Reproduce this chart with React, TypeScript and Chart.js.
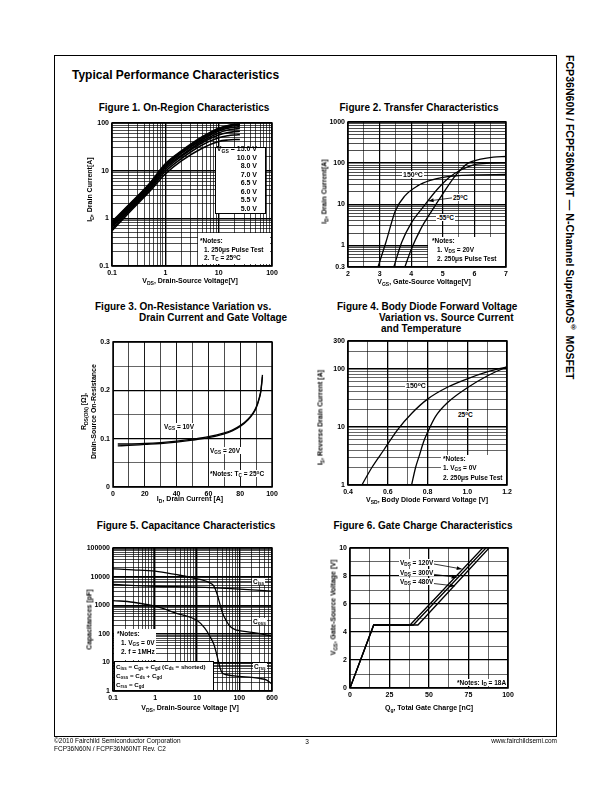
import React, { useEffect, useRef } from "react";
import { Chart, registerables } from "chart.js";
Chart.register(...registerables);

const FONT = "'Liberation Sans', Arial, Helvetica, sans-serif";

// ---------------- Figure 1: On-Region Characteristics ----------------
const f1Vds = [0.1, 0.2, 0.5, 1, 2, 5, 10, 15, 20, 25];
const f1Id15 = [0.85, 1.85, 5.3, 14, 26, 52, 78, 89, 94, 96];
const f1Id10 = [0.82, 1.8, 5.1, 13.5, 25, 50, 76, 87, 92, 94];
const f1Id8 = [0.78, 1.7, 4.9, 13, 24, 47, 72, 83, 88, 90];
const f1Id7 = [0.74, 1.62, 4.7, 12.2, 23, 45, 68, 78, 82, 84];
const f1Id65 = [0.7, 1.55, 4.5, 11.5, 21, 42, 62, 71, 75, 77];
const f1Id6 = [0.66, 1.45, 4.2, 10.6, 20, 39, 56, 63, 66, 67];
const f1Id55 = [0.6, 1.35, 3.9, 9.6, 18, 35, 49, 54, 56, 57];
const f1Id5 = [0.55, 1.25, 3.6, 8.5, 16, 30, 41, 44, 45, 45];
const f1Legend = ["15.0 V", "10.0 V", "8.0 V", "7.0 V", "6.5 V", "6.0 V", "5.5 V", "5.0 V"];
const f1XLabels = [0.1, 1, 10, 100];
const f1YLabels = [0.1, 1, 10, 100];

// ---------------- Figure 2: Transfer Characteristics ----------------
const f2Vgs150 = [2.95, 3.2, 3.5, 3.8, 4.2, 4.6, 5.0, 5.5, 6, 7];
const f2Id150 = [0.3, 1.2, 7, 16, 28, 38, 45, 50, 52, 53];
const f2Vgs25 = [3.45, 3.7, 4.0, 4.4, 4.8, 5.2, 5.6, 6.0, 6.5, 7];
const f2Id25 = [0.3, 1.2, 3.5, 9, 22, 45, 70, 92, 100, 102];
const f2VgsM55 = [3.8, 4.0, 4.3, 4.6, 5.0, 5.4, 5.8, 6.2, 6.6, 7];
const f2IdM55 = [0.3, 0.8, 2.5, 6, 18, 50, 100, 125, 140, 145];
const f2XLabels = [2, 3, 4, 5, 6, 7];
const f2YLabels = [0.3, 1, 10, 100, 1000];

// ---------------- Figure 3: On-Resistance ----------------
const f3Id = [3, 10, 20, 30, 40, 50, 60, 70, 75, 80, 85, 88, 90, 92, 93, 94];
const f3R10 = [0.089, 0.089, 0.09, 0.092, 0.095, 0.099, 0.104, 0.112, 0.118, 0.127, 0.141, 0.153, 0.165, 0.185, 0.2, 0.232];
const f3R20 = [0.085, 0.086, 0.088, 0.09, 0.093, 0.097, 0.102, 0.11, 0.116, 0.125, 0.139, 0.151, 0.163, 0.183, 0.198, 0.228];
const f3XLabels = [0, 20, 40, 60, 80, 100];
const f3YLabels = [0, 0.1, 0.2, 0.3];

// ---------------- Figure 4: Body Diode ----------------
const f4Vsd150 = [0.47, 0.52, 0.58, 0.65, 0.72, 0.8, 0.9, 1.0, 1.1, 1.2];
const f4Is150 = [1, 2, 4, 9, 17, 30, 48, 67, 88, 108];
const f4Vsd25 = [0.72, 0.74, 0.76, 0.78, 0.8, 0.84, 0.9, 1.0, 1.1, 1.2];
const f4Is25 = [1, 2, 3.3, 5.5, 8, 15, 26, 47, 75, 108];
const f4XLabels = [0.4, 0.6, 0.8, 1.0, 1.2];
const f4YLabels = [1, 10, 100, 300];

// ---------------- Figure 5: Capacitance ----------------
const f5VdsCiss = [0.1, 1, 10, 100, 600];
const f5Ciss = [5300, 4600, 4270, 3640, 3100];
const f5VdsCoss = [0.1, 0.3, 1, 3, 10, 20, 25, 30, 35, 40, 50, 60, 80, 100, 200, 400, 600];
const f5Coss = [18760, 17300, 15500, 11900, 8400, 6060, 4640, 2370, 1050, 540, 275, 184, 140, 130, 113, 94, 82];
const f5VdsCrss = [0.1, 0.3, 1, 3, 10, 15, 20, 25, 30, 35, 40, 50, 100, 200, 300, 450, 600];
const f5Crss = [1457, 1270, 920, 540, 290, 160, 82, 42, 16, 6.4, 4.2, 3.7, 3.25, 3.0, 2.75, 2.4, 1.75];
const f5XLabels = [0.1, 1, 10, 100, 600];
const f5YLabels = [1, 10, 100, 1000, 10000, 100000];

// ---------------- Figure 6: Gate Charge ----------------
const f6Qg120 = [0, 15, 38, 84];
const f6Vgs120 = [0, 4.5, 4.5, 10];
const f6Qg300 = [0, 15, 40, 86];
const f6Vgs300 = [0, 4.5, 4.5, 10];
const f6Qg480 = [0, 15, 43, 88];
const f6Vgs480 = [0, 4.5, 4.5, 10];
const f6XLabels = [0, 25, 50, 75, 100];
const f6YLabels = [0, 2, 4, 6, 8, 10];

// ---------------- helpers ----------------
function logGrid(min: number, max: number): number[] {
  const out: number[] = [];
  for (let e = Math.floor(Math.log10(min)) - 1; e <= Math.ceil(Math.log10(max)); e++) {
    for (let m = 1; m < 10; m++) {
      const v = +(m * Math.pow(10, e)).toPrecision(6);
      if (v >= min * 0.999999 && v <= max * 1.000001) out.push(v);
    }
  }
  if (!out.some((v) => Math.abs(v - max) < max * 1e-6)) out.push(max);
  return out;
}
function stepGrid(min: number, max: number, step: number): number[] {
  const out: number[] = [];
  const n = Math.round((max - min) / step);
  for (let i = 0; i <= n; i++) out.push(+(min + i * step).toFixed(6));
  return out;
}

const PADL = 40, PADT = 8, PADR = 16, PADB = 14;

type AxisDef = {
  type: "linear" | "logarithmic";
  min: number;
  max: number;
  grid: number[];
  labels: number[];
  fmt?: (v: number) => string;
  major?: number;
  minor?: number;
};

function findLabel(labels: number[], v: number) {
  return labels.find((l) => Math.abs(l - v) <= 1e-7 * Math.max(1, Math.abs(l)));
}

function makeAxis(a: AxisDef, horizontal: boolean) {
  const fmt = a.fmt || ((v: number) => String(v));
  return {
    type: a.type,
    min: a.min,
    max: a.max,
    bounds: "data",
    afterBuildTicks: (s: any) => {
      s.ticks = a.grid.map((v) => ({ value: v }));
    },
    afterFit: (s: any) => {
      if (horizontal) s.height = PADB;
      else s.width = PADL;
    },
    ticks: {
      autoSkip: false,
      maxRotation: 0,
      minRotation: 0,
      padding: 3,
      color: "#000",
      font: { family: FONT, size: 7, weight: "bold" },
      callback: (v: any) => {
        const l = findLabel(a.labels, Number(v));
        return l === undefined ? "" : fmt(l);
      },
    },
    grid: {
      color: "#000",
      drawTicks: false,
      lineWidth: (ctx: any) =>
        ctx.tick && findLabel(a.labels, ctx.tick.value) !== undefined ? a.major ?? 1.2 : a.minor ?? 0.55,
    },
    border: { display: false },
  };
}

const framePlugin = {
  id: "frame",
  afterDatasetsDraw(chart: any) {
    const { ctx, chartArea } = chart;
    const { left, top, right, bottom } = chartArea;
    ctx.save();
    ctx.lineWidth = 1.5;
    ctx.strokeStyle = "#000";
    ctx.strokeRect(left, top, right - left, bottom - top);
    ctx.restore();
  },
};

type Arrow = { from: [number, number]; to: [number, number] };
function arrowPlugin(arrows: Arrow[]) {
  return {
    id: "arrows",
    afterDatasetsDraw(chart: any) {
      const { ctx } = chart;
      const xs = chart.scales.x, ys = chart.scales.y;
      ctx.save();
      ctx.strokeStyle = "#000";
      ctx.fillStyle = "#000";
      ctx.lineWidth = 0.8;
      arrows.forEach((a) => {
        const x1 = xs.getPixelForValue(a.from[0]), y1 = ys.getPixelForValue(a.from[1]);
        const x2 = xs.getPixelForValue(a.to[0]), y2 = ys.getPixelForValue(a.to[1]);
        ctx.beginPath();
        ctx.moveTo(x1, y1);
        ctx.lineTo(x2, y2);
        ctx.stroke();
        const ang = Math.atan2(y2 - y1, x2 - x1);
        const L = 5, W = 2;
        ctx.beginPath();
        ctx.moveTo(x2, y2);
        ctx.lineTo(x2 - L * Math.cos(ang) + W * Math.sin(ang), y2 - L * Math.sin(ang) - W * Math.cos(ang));
        ctx.lineTo(x2 - L * Math.cos(ang) - W * Math.sin(ang), y2 - L * Math.sin(ang) + W * Math.cos(ang));
        ctx.closePath();
        ctx.fill();
      });
      ctx.restore();
    },
  };
}

type Series = { x: number[]; y: number[]; smooth?: boolean; width?: number };

function lineCfg(series: Series[], xa: AxisDef, ya: AxisDef, arrows: Arrow[] = []) {
  return {
    type: "line",
    data: {
      datasets: series.map((s) => ({
        data: s.x.map((x, i) => ({ x, y: s.y[i] })),
        borderColor: "#000",
        borderWidth: s.width ?? 1.3,
        pointRadius: 0,
        fill: false,
        cubicInterpolationMode: s.smooth === false ? "default" : "monotone",
        tension: 0,
      })),
    },
    options: {
      responsive: false,
      animation: false,
      devicePixelRatio: 1,
      events: [],
      layout: { padding: { left: 0, top: PADT, right: PADR, bottom: 0 } },
      plugins: { legend: { display: false }, tooltip: { enabled: false }, title: { display: false } },
      scales: { x: makeAxis(xa, true), y: makeAxis(ya, false) },
    },
    plugins: [framePlugin, arrowPlugin(arrows)],
  };
}

function ChartBox({ area, cfg }: { area: [number, number, number, number]; cfg: () => any }) {
  const ref = useRef<HTMLCanvasElement>(null);
  const [L, T, R, B] = area;
  const w = R - L + PADL + PADR;
  const h = B - T + PADT + PADB;
  useEffect(() => {
    const chart = new Chart(ref.current as HTMLCanvasElement, cfg() as any);
    return () => chart.destroy();
  }, []);
  return (
    <canvas
      ref={ref}
      width={w}
      height={h}
      style={{ position: "absolute", left: L - PADL, top: T - PADT, width: w, height: h }}
    />
  );
}

const Sub = ({ children }: { children: any }) => (
  <sub style={{ fontSize: "0.72em", verticalAlign: "-0.3em", lineHeight: 0 }}>{children}</sub>
);
const Sup = ({ children }: { children: any }) => (
  <sup style={{ fontSize: "0.72em", verticalAlign: "0.4em", lineHeight: 0 }}>{children}</sup>
);

function Txt({
  x, y, size = 7, bold = true, anchor = "left", children, bg = false, style = {},
}: {
  x: number; y: number; size?: number; bold?: boolean; anchor?: "left" | "center" | "right"; children: any; bg?: boolean; style?: any;
}) {
  const W = 400;
  const left = anchor === "left" ? x : anchor === "center" ? x - W / 2 : x - W;
  return (
    <div
      style={{
        position: "absolute", left, top: Math.round(y - size * 0.6), width: W, height: size * 1.2,
        textAlign: anchor, fontSize: size, lineHeight: `${size * 1.2}px`, fontWeight: bold ? "bold" : "normal",
        whiteSpace: "nowrap", pointerEvents: "none", color: "#000", ...style,
      }}
    >
      <span style={{ background: bg ? "#fff" : "transparent", padding: bg ? "0 1px" : 0, color: "#000" }}>{children}</span>
    </div>
  );
}

function VTxt({ x, y, size = 7, children }: { x: number; y: number; size?: number; children: any }) {
  const W = 240, H = size * 1.3;
  return (
    <div
      style={{
        position: "absolute", left: x - W / 2, top: y - H / 2, width: W, height: H, lineHeight: `${H}px`,
        textAlign: "center", fontSize: size, fontWeight: "bold", transform: "rotate(-90deg)", whiteSpace: "nowrap",
        color: "#000",
      }}
    >
      {children}
    </div>
  );
}

function Box({ l, t, w, h, border = false, children }: { l: number; t: number; w: number; h: number; border?: boolean; children?: any }) {
  return (
    <div
      style={{
        position: "absolute", left: l, top: t, width: w, height: h, background: "#fff",
        border: border ? "1px solid #000" : "none", boxSizing: "border-box",
      }}
    >
      {children}
    </div>
  );
}

export default function App() {
  const fig1 = () =>
    lineCfg(
      [f1Id15, f1Id10, f1Id8, f1Id7, f1Id65, f1Id6, f1Id55, f1Id5].map((y) => ({ x: f1Vds, y, width: 1.6 })),
      { type: "logarithmic", min: 0.1, max: 100, grid: logGrid(0.1, 100), labels: f1XLabels, major: 1.4, minor: 0.7 },
      { type: "logarithmic", min: 0.1, max: 100, grid: logGrid(0.1, 100), labels: f1YLabels, major: 1.4, minor: 0.7 }
    );
  const fig2 = () =>
    lineCfg(
      [
        { x: f2Vgs150, y: f2Id150 },
        { x: f2Vgs25, y: f2Id25 },
        { x: f2VgsM55, y: f2IdM55 },
      ],
      { type: "linear", min: 2, max: 7, grid: stepGrid(2, 7, 0.5), labels: f2XLabels, major: 1.2, minor: 0.6 },
      { type: "logarithmic", min: 0.3, max: 1000, grid: logGrid(0.3, 1000), labels: f2YLabels, major: 1.4, minor: 0.7 },
      [{ from: [5.29, 14.3], to: [4.55, 12.1] }]
    );
  const fig3 = () =>
    lineCfg(
      [
        { x: f3Id, y: f3R10 },
        { x: f3Id, y: f3R20 },
      ],
      { type: "linear", min: 0, max: 100, grid: stepGrid(0, 100, 10), labels: f3XLabels, major: 0.9, minor: 0.7 },
      { type: "linear", min: 0, max: 0.3, grid: stepGrid(0, 0.3, 0.05), labels: f3YLabels, major: 1.3, minor: 0.6 }
    );
  const fig4 = () =>
    lineCfg(
      [
        { x: f4Vsd150, y: f4Is150 },
        { x: f4Vsd25, y: f4Is25 },
      ],
      {
        type: "linear", min: 0.4, max: 1.2, grid: stepGrid(0.4, 1.2, 0.1), labels: f4XLabels,
        fmt: (v) => v.toFixed(1), major: 1.3, minor: 0.6,
      },
      { type: "logarithmic", min: 1, max: 300, grid: logGrid(1, 300), labels: f4YLabels, major: 1.4, minor: 0.6 }
    );
  const fig5 = () =>
    lineCfg(
      [
        { x: f5VdsCiss, y: f5Ciss },
        { x: f5VdsCoss, y: f5Coss },
        { x: f5VdsCrss, y: f5Crss },
      ],
      { type: "logarithmic", min: 0.1, max: 600, grid: logGrid(0.1, 600), labels: f5XLabels, major: 1.4, minor: 0.7 },
      { type: "logarithmic", min: 1, max: 100000, grid: logGrid(1, 100000), labels: f5YLabels, major: 1.4, minor: 0.7 }
    );
  const fig6 = () =>
    lineCfg(
      [
        { x: f6Qg120, y: f6Vgs120, smooth: false },
        { x: f6Qg300, y: f6Vgs300, smooth: false },
        { x: f6Qg480, y: f6Vgs480, smooth: false },
      ],
      { type: "linear", min: 0, max: 100, grid: stepGrid(0, 100, 12.5), labels: f6XLabels, major: 1.3, minor: 0.6 },
      { type: "linear", min: 0, max: 10, grid: stepGrid(0, 10, 1), labels: f6YLabels, major: 1.3, minor: 0.6 },
      [
        { from: [48.5, 8.95], to: [70.7, 8.5] },
        { from: [48.5, 8.19], to: [67.5, 7.9] },
        { from: [48.5, 7.52], to: [66.5, 7.29] },
      ]
    );

  const figT = 10;
  const ann = 6.5;

  return (
    <div
      style={{
        position: "absolute", left: 0, top: 0, width: 612, height: 792, background: "#fff",
        fontFamily: FONT, color: "#000", overflow: "hidden",
      }}
    >
      {/* page frame */}
      <div style={{ position: "absolute", left: 54, top: 55, width: 503, height: 682, border: "1px solid #000", boxSizing: "border-box" }} />
      {/* side title */}
      <div
        style={{
          position: "absolute", left: 563, top: 55, writingMode: "vertical-rl", fontSize: 10.6, fontWeight: "bold",
          whiteSpace: "nowrap", lineHeight: "14px", color: "#000",
        }}
      >
        FCP36N60N / FCPF36N60NT — N-Channel SupreMOS<Sup>®</Sup> MOSFET
      </div>
      <Txt x={72} y={75} size={12}>Typical Performance Characteristics</Txt>

      {/* Figure titles */}
      <Txt x={184} y={108} size={figT} anchor="center">Figure 1. On-Region Characteristics</Txt>
      <Txt x={419} y={108} size={figT} anchor="center">Figure 2. Transfer Characteristics</Txt>
      <Txt x={95} y={307} size={figT}>Figure 3. On-Resistance Variation vs.</Txt>
      <Txt x={139} y={318} size={figT}>Drain Current and Gate Voltage</Txt>
      <Txt x={337} y={307} size={figT}>Figure 4. Body Diode Forward Voltage</Txt>
      <Txt x={379} y={318} size={figT}>Variation vs. Source Current</Txt>
      <Txt x={381} y={329} size={figT}>and Temperature</Txt>
      <Txt x={186} y={526} size={figT} anchor="center">Figure 5. Capacitance Characteristics</Txt>
      <Txt x={423} y={526} size={figT} anchor="center">Figure 6. Gate Charge Characteristics</Txt>

      {/* Charts */}
      <ChartBox area={[112, 123, 272, 266]} cfg={fig1} />
      <ChartBox area={[348, 122, 506, 267]} cfg={fig2} />
      <ChartBox area={[113, 342, 272, 487]} cfg={fig3} />
      <ChartBox area={[348, 341, 507, 485]} cfg={fig4} />
      <ChartBox area={[113, 548, 272, 691]} cfg={fig5} />
      <ChartBox area={[350, 548, 508, 688]} cfg={fig6} />

      {/* Figure 1 annotations */}
      <VTxt x={90} y={190}>I<Sub>D</Sub>, Drain Current[A]</VTxt>
      <Txt x={190} y={281} anchor="center">V<Sub>DS</Sub>, Drain-Source Voltage[V]</Txt>
      <Box l={215} t={147} w={51} h={67} border />
      <Txt x={257} y={149.5} size={7} anchor="right">V<Sub>GS</Sub> = {f1Legend[0]}</Txt>
      {f1Legend.slice(1).map((s, i) => (
        <Txt key={s} x={257} y={158 + i * 8.5} size={7} anchor="right">{s}</Txt>
      ))}
      <Box l={198} t={233} w={72} h={31} />
      <Txt x={200} y={241} size={ann}>*Notes:</Txt>
      <Txt x={204} y={249.5} size={ann}>1. 250μs Pulse Test</Txt>
      <Txt x={204} y={258} size={ann}>2. T<Sub>C</Sub> = 25<Sup>o</Sup>C</Txt>

      {/* Figure 2 annotations */}
      <VTxt x={324} y={192}>I<Sub>D</Sub>, Drain Current[A]</VTxt>
      <Txt x={424} y={282} anchor="center">V<Sub>GS</Sub>, Gate-Source Voltage[V]</Txt>
      <Txt x={402} y={175.5} size={7} bg>150<Sup>o</Sup>C</Txt>
      <Txt x={452} y={198} size={ann} bg>25<Sup>o</Sup>C</Txt>
      <Txt x={436} y={218} size={ann} bg>-55<Sup>o</Sup>C</Txt>
      <Box l={428} t={237} w={77} h={29} />
      <Txt x={432} y={241} size={ann}>*Notes:</Txt>
      <Txt x={437} y={250} size={ann}>1. V<Sub>DS</Sub> = 20V</Txt>
      <Txt x={437} y={258.5} size={ann}>2. 250μs Pulse Test</Txt>

      {/* Figure 3 annotations */}
      <VTxt x={84} y={412}>R<Sub>DS(ON)</Sub> [Ω],</VTxt>
      <VTxt x={94} y={412}>Drain-Source On-Resistance</VTxt>
      <Txt x={190} y={499} anchor="center">I<Sub>D</Sub>, Drain Current [A]</Txt>
      <Txt x={163} y={426.5} size={ann} bg>V<Sub>GS</Sub> = 10V</Txt>
      <Txt x={209} y={451} size={ann} bg>V<Sub>GS</Sub> = 20V</Txt>
      <Txt x={209} y={474} size={ann} bg>*Notes: T<Sub>C</Sub> = 25<Sup>o</Sup>C</Txt>

      {/* Figure 4 annotations */}
      <VTxt x={320} y={418}>I<Sub>S</Sub>, Reverse Drain Current [A]</VTxt>
      <Txt x={427} y={500} anchor="center">V<Sub>SD</Sub>, Body Diode Forward Voltage [V]</Txt>
      <Txt x={405} y={386} size={7} bg>150<Sup>o</Sup>C</Txt>
      <Txt x={457} y={414.5} size={ann} bg>25<Sup>o</Sup>C</Txt>
      <Box l={441} t={455} w={65} h={29} />
      <Txt x={443} y={459} size={ann}>*Notes:</Txt>
      <Txt x={443} y={468} size={ann}>1. V<Sub>GS</Sub> = 0V</Txt>
      <Txt x={443} y={477.5} size={ann}>2. 250μs Pulse Test</Txt>

      {/* Figure 5 annotations */}
      <VTxt x={89} y={620}>Capacitances [pF]</VTxt>
      <Txt x={190} y={708} anchor="center">V<Sub>DS</Sub>, Drain-Source Voltage [V]</Txt>
      <Txt x={252} y={581.5} size={ann} bg>C<Sub>iss</Sub></Txt>
      <Txt x={252} y={622} size={ann} bg>C<Sub>oss</Sub></Txt>
      <Txt x={253} y={667} size={ann} bg>C<Sub>rss</Sub></Txt>
      <Box l={114} t={629} w={42} h={31} />
      <Txt x={117} y={634} size={ann}>*Notes:</Txt>
      <Txt x={121} y={643} size={ann}>1. V<Sub>GS</Sub> = 0V</Txt>
      <Txt x={121} y={652} size={ann}>2. f = 1MHz</Txt>
      <Box l={114} t={661} w={100} h={30} border />
      <Txt x={116} y={667} size={6.2}>C<Sub>iss</Sub> = C<Sub>gs</Sub> + C<Sub>gd</Sub> (C<Sub>ds</Sub> = shorted)</Txt>
      <Txt x={116} y={676} size={6.2}>C<Sub>oss</Sub> = C<Sub>ds</Sub> + C<Sub>gd</Sub></Txt>
      <Txt x={116} y={685} size={6.2}>C<Sub>rss</Sub> = C<Sub>gd</Sub></Txt>

      {/* Figure 6 annotations */}
      <VTxt x={333} y={608}>V<Sub>GS</Sub>, Gate-Source Voltage [V]</VTxt>
      <Txt x={429} y={708} anchor="center">Q<Sub>g</Sub>, Total Gate Charge [nC]</Txt>
      <Txt x={399} y={562.5} size={ann} bg>V<Sub>DS</Sub> = 120V</Txt>
      <Txt x={399} y={572.5} size={ann} bg>V<Sub>DS</Sub> = 300V</Txt>
      <Txt x={399} y={582} size={ann} bg>V<Sub>DS</Sub> = 480V</Txt>
      <Txt x={456} y={683} size={ann} bg>*Notes: I<Sub>D</Sub> = 18A</Txt>

      {/* footer */}
      <Txt x={54} y={741} size={6.5} bold={false}>©2010 Fairchild Semiconductor Corporation</Txt>
      <Txt x={54} y={749} size={6.5} bold={false}>FCP36N60N / FCPF36N60NT Rev. C2</Txt>
      <Txt x={307} y={742} size={6.5} bold={false} anchor="center">3</Txt>
      <Txt x={557} y={741} size={6.5} bold={false} anchor="right">www.fairchildsemi.com</Txt>
    </div>
  );
}
